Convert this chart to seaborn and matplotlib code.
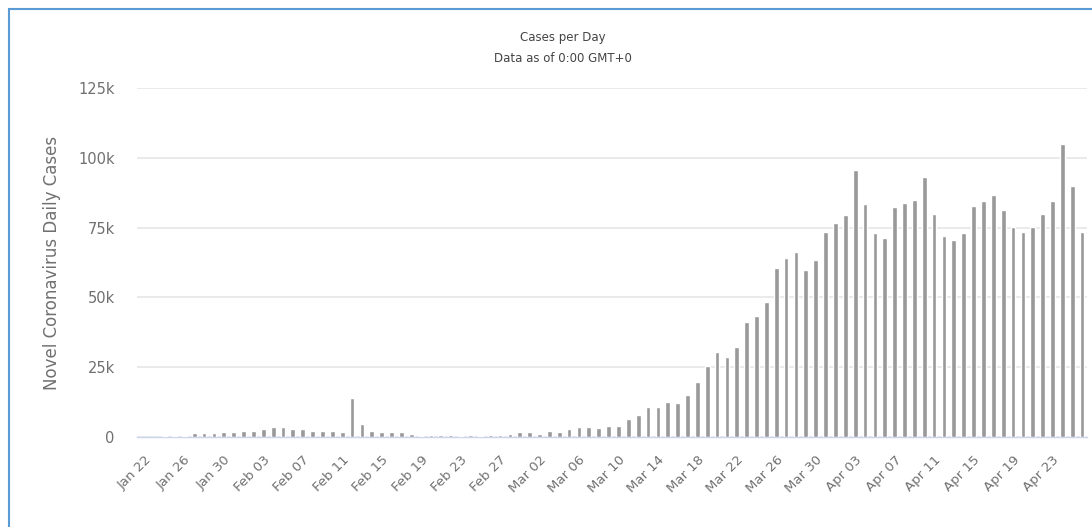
import pandas as pd
import matplotlib.pyplot as plt
import seaborn as sns
from matplotlib.patches import Rectangle

# daily new cases, Jan 22 .. Apr 26 (values in thousands)
dates = pd.date_range("2020-01-22", "2020-04-26", freq="D")
cases_k = [
    0.0, 0.1, 0.2, 0.3, 0.3, 1.3, 1.3, 1.3, 1.8, 1.8,           # Jan 22 - Jan 31
    2.3, 2.3, 2.9, 3.5, 3.5, 2.9, 2.9, 2.3, 2.3, 2.3,           # Feb 01 - Feb 10
    1.8, 14.0, 4.7, 2.3, 1.8, 1.8, 1.8, 1.2, 0.2, 0.7,          # Feb 11 - Feb 20
    0.7, 0.7, 0.2, 0.7, 0.2, 0.7, 0.7, 1.2, 1.8, 1.8,           # Feb 21 - Mar 01
    1.2, 2.3, 1.8, 2.9, 3.5, 3.5, 3.3, 3.9, 3.9, 6.6,           # Mar 02 - Mar 11
    7.8, 10.6, 10.6, 12.6, 12.1, 15.0, 19.8, 25.5, 30.4, 28.8,  # Mar 12 - Mar 21
    32.2, 41.1, 43.2, 48.4, 60.4, 64.1, 66.4, 59.8, 63.3, 73.5,  # Mar 22 - Mar 31
    76.8, 79.4, 95.5, 83.3, 72.9, 71.3, 82.4, 83.9, 85.0, 93.3,  # Apr 01 - Apr 10
    80.0, 71.9, 70.7, 72.9, 82.9, 84.5, 86.8, 81.2, 75.2, 73.5,  # Apr 11 - Apr 20
    75.2, 80.0, 84.5, 105.0, 90.0, 73.5,                         # Apr 21 - Apr 26
]
cases = [v * 1000 for v in cases_k]
day_labels = [d.strftime("%b %d") for d in dates]

df = pd.DataFrame({"day": day_labels, "cases": cases})

sns.set_style("white")
plt.rcParams["font.family"] = ["DejaVu Sans"]

fig = plt.figure(figsize=(10.92, 5.27), dpi=100)
ax = fig.add_axes([137 / 1092, 1 - 437 / 527, 950 / 1092, 349 / 527])

sns.barplot(data=df, x="day", y="cases", color="#999999", width=0.48,
            saturation=1, ax=ax, zorder=3)

ax.set_xlim(-0.8, 95.5)
ax.set_ylim(0, 125000)
ax.set_yticks([0, 25000, 50000, 75000, 100000, 125000])
ax.set_yticklabels(["0", "25k", "50k", "75k", "100k", "125k"])
ax.yaxis.grid(True, color="#e6e6e6", linewidth=1.2)
ax.set_axisbelow(True)

tick_pos = list(range(0, len(day_labels), 4))
ax.set_xticks(tick_pos)
ax.set_xticklabels([day_labels[i] for i in tick_pos], rotation=45,
                   ha="right", rotation_mode="anchor")
ax.tick_params(axis="x", length=0, pad=12, labelsize=9.5, colors="#707070")
ax.tick_params(axis="y", length=0, pad=16, labelsize=10.5, colors="#707070")

for side in ["top", "right", "left"]:
    ax.spines[side].set_visible(False)
ax.spines["bottom"].set_color("#ccd6eb")
ax.spines["bottom"].set_linewidth(1)
ax.spines["bottom"].set_zorder(1)

ax.set_xlabel("")
ax.set_ylabel("Novel Coronavirus Daily Cases", fontsize=12, color="#707070",
              labelpad=12)

fig.text(563 / 1092, 1 - 38 / 527, "Cases per Day", ha="center", va="center",
         fontsize=8.5, color="#444444")
fig.text(563 / 1092, 1 - 58 / 527, "Data as of 0:00 GMT+0", ha="center",
         va="center", fontsize=8.5, color="#444444")

# blue frame of the screenshot
fig.patches.append(Rectangle((9 / 1092, -0.01), 1.2, 1 - 9 / 527 + 0.01,
                             transform=fig.transFigure, fill=False,
                             edgecolor="#5b9bd5", linewidth=1.5))

fig.savefig("out.png", dpi=100)
